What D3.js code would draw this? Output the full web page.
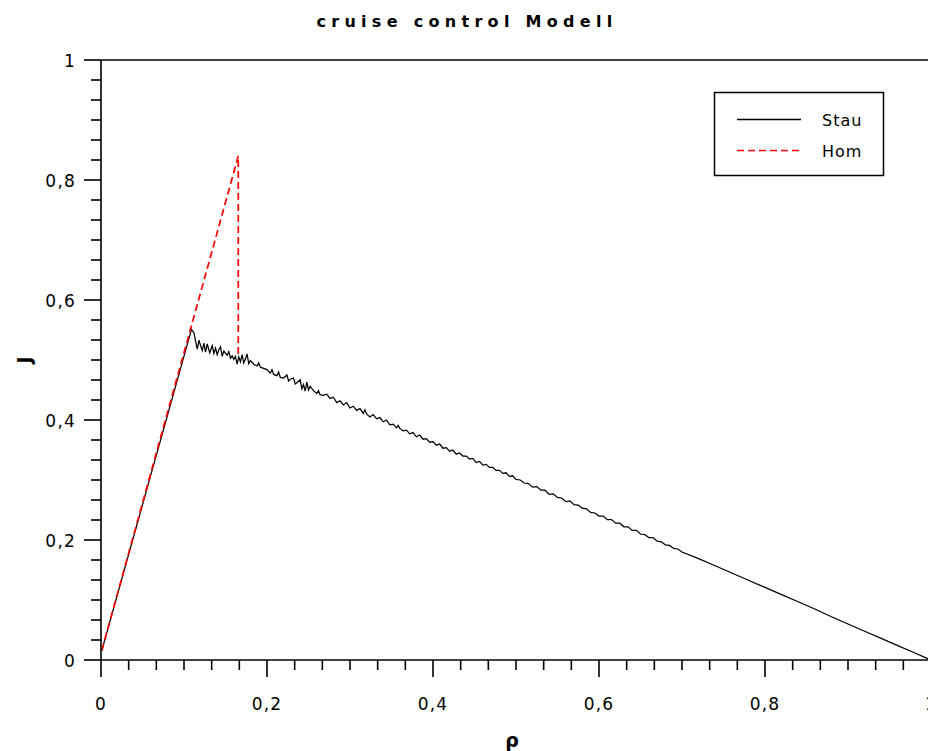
<!DOCTYPE html>
<html>
<head>
<meta charset="utf-8">
<script src="https://cdn.jsdelivr.net/npm/d3@7"></script>
<style>
  html, body { margin: 0; padding: 0; background: #fff; overflow: hidden; }
  svg { display: block; font-family: "DejaVu Sans", Verdana, sans-serif; }
</style>
</head>
<body>
<svg id="chart" width="928" height="751"></svg>
<script>
// ---- data ----
const title = "cruise control Modell";
const xLabel = "ρ";
const yLabel = "J";
const majorTicks = [0, 0.2, 0.4, 0.6, 0.8, 1];
const tickLabels = ["0", "0,2", "0,4", "0,6", "0,8", "1"];
const minorStep = 1 / 30;
const seriesNames = ["Stau", "Hom"];

// Hom: homogeneous start
const hom = [[0.001, 0.016], [0.1654, 0.840], [0.1654, 0.505]];

// Stau: jam start
const stau = [
  [0.001, 0.016], [0.109, 0.551], [0.112, 0.545], [0.114, 0.531], [0.116, 0.518], [0.118, 0.533], [0.120, 0.524],
  [0.122, 0.516], [0.124, 0.528], [0.126, 0.513], [0.128, 0.527], [0.131, 0.512], [0.134, 0.524], [0.136, 0.511],
  [0.138, 0.520], [0.140, 0.509], [0.142, 0.517], [0.144, 0.522], [0.146, 0.506], [0.148, 0.515], [0.152, 0.508],
  [0.154, 0.514], [0.156, 0.503], [0.158, 0.507], [0.160, 0.501], [0.162, 0.506], [0.164, 0.493], [0.166, 0.505],
  [0.168, 0.497], [0.170, 0.509], [0.172, 0.495], [0.174, 0.502], [0.176, 0.510], [0.178, 0.494], [0.180, 0.499],
  [0.184, 0.493], [0.188, 0.490], [0.190, 0.495], [0.192, 0.488], [0.196, 0.486], [0.200, 0.484],
  [0.204, 0.478], [0.206, 0.484], [0.208, 0.476], [0.212, 0.474], [0.214, 0.480], [0.216, 0.471], [0.220, 0.470],
  [0.224, 0.475], [0.226, 0.465], [0.228, 0.468], [0.232, 0.470], [0.234, 0.460], [0.236, 0.462], [0.240, 0.467],
  [0.242, 0.452], [0.244, 0.459], [0.246, 0.448], [0.248, 0.463], [0.250, 0.450], [0.252, 0.456], [0.256, 0.449],
  [0.260, 0.444], [0.262, 0.449], [0.264, 0.442], [0.268, 0.441], [0.272, 0.443], [0.276, 0.436], [0.280, 0.438],
  [0.284, 0.429], [0.288, 0.432], [0.292, 0.425], [0.296, 0.429], [0.300, 0.420],
  [0.304, 0.423], [0.308, 0.416], [0.312, 0.419], [0.316, 0.411], [0.318, 0.417], [0.320, 0.410],
  [0.324, 0.405], [0.328, 0.409], [0.332, 0.402], [0.336, 0.404], [0.340, 0.397],
  [0.344, 0.400], [0.348, 0.392], [0.352, 0.393], [0.356, 0.387], [0.358, 0.391], [0.360, 0.386],
  [0.364, 0.382], [0.368, 0.383], [0.372, 0.377], [0.376, 0.379], [0.380, 0.372],
  [0.384, 0.375], [0.388, 0.368], [0.392, 0.369], [0.396, 0.363], [0.400, 0.364],
  [0.404, 0.358], [0.408, 0.360], [0.412, 0.353], [0.416, 0.354], [0.420, 0.348],
  [0.424, 0.350], [0.428, 0.343], [0.432, 0.345], [0.436, 0.340], [0.440, 0.340],
  [0.444, 0.335], [0.448, 0.336], [0.452, 0.329], [0.456, 0.331], [0.460, 0.325],
  [0.464, 0.326], [0.468, 0.321], [0.472, 0.321], [0.476, 0.316], [0.480, 0.316],
  [0.484, 0.311], [0.488, 0.312], [0.492, 0.306], [0.496, 0.307], [0.500, 0.301],
  [0.505, 0.300], [0.510, 0.295], [0.515, 0.294], [0.520, 0.288], [0.525, 0.289],
  [0.530, 0.283], [0.535, 0.283], [0.540, 0.276], [0.545, 0.277], [0.550, 0.271],
  [0.555, 0.270], [0.560, 0.264], [0.565, 0.265], [0.570, 0.259], [0.575, 0.258],
  [0.580, 0.253], [0.585, 0.252], [0.590, 0.246], [0.595, 0.245], [0.600, 0.240],
  [0.605, 0.240], [0.610, 0.234], [0.615, 0.234], [0.620, 0.228], [0.625, 0.228],
  [0.630, 0.222], [0.635, 0.222], [0.640, 0.216], [0.645, 0.216], [0.650, 0.210],
  [0.655, 0.209], [0.660, 0.204], [0.665, 0.204], [0.670, 0.198], [0.675, 0.197],
  [0.680, 0.192], [0.685, 0.191], [0.690, 0.186], [0.695, 0.185], [0.700, 0.180],
  [0.720, 0.169], [0.740, 0.157], [0.760, 0.145], [0.780, 0.133], [0.800, 0.121],
  [0.820, 0.109], [0.840, 0.097], [0.860, 0.085], [0.880, 0.072], [0.900, 0.060],
  [0.920, 0.048], [0.940, 0.036], [0.960, 0.024], [0.980, 0.012], [1.000, 0.000]
];

// ---- layout ----
const svg = d3.select("#chart");
const x = d3.scaleLinear().domain([0, 1]).range([101, 931]);
const y = d3.scaleLinear().domain([0, 1]).range([660, 60]);
const minorTicks = d3.range(0, 31).map(i => i * minorStep).filter(v => !majorTicks.some(m => Math.abs(m - v) < 1e-6));
const axisColor = "#000";

// title
svg.append("text")
  .attr("x", 467).attr("y", 27)
  .attr("text-anchor", "middle")
  .attr("font-size", 16).attr("font-weight", "bold")
  .attr("letter-spacing", 5.3)
  .text(title);

// data lines
const line = d3.line().x(d => x(d[0])).y(d => y(d[1]));
svg.append("path").datum(stau)
  .attr("d", line).attr("fill", "none")
  .attr("stroke", "#000").attr("stroke-width", 1.25).attr("stroke-linejoin", "miter");
svg.append("path").datum(hom)
  .attr("d", line).attr("fill", "none")
  .attr("stroke", "#ff0000").attr("stroke-width", 1.7)
  .attr("stroke-dasharray", "7,4");

// axes
const g = svg.append("g").attr("stroke", axisColor).attr("stroke-width", 1.6);
g.append("line").attr("x1", x(0)).attr("x2", x(1)).attr("y1", y(0)).attr("y2", y(0));
g.append("line").attr("x1", x(0)).attr("x2", x(0)).attr("y1", y(0)).attr("y2", y(1));
g.append("line").attr("x1", x(0)).attr("x2", x(1)).attr("y1", y(1)).attr("y2", y(1));

// x ticks
g.selectAll(".xmaj").data(majorTicks).join("line")
  .attr("x1", d => x(d)).attr("x2", d => x(d)).attr("y1", y(0)).attr("y2", y(0) + 17);
g.selectAll(".xmin").data(minorTicks).join("line")
  .attr("class", "xmin")
  .attr("x1", d => x(d)).attr("x2", d => x(d)).attr("y1", y(0)).attr("y2", y(0) + 10);
// y ticks
g.selectAll(".ymaj").data(majorTicks).join("line")
  .attr("class", "ymaj")
  .attr("x1", x(0) - 17).attr("x2", x(0)).attr("y1", d => y(d)).attr("y2", d => y(d));
g.selectAll(".ymin").data(minorTicks).join("line")
  .attr("class", "ymin")
  .attr("x1", x(0) - 10).attr("x2", x(0)).attr("y1", d => y(d)).attr("y2", d => y(d));

// tick labels
svg.selectAll(".xl").data(majorTicks).join("text")
  .attr("class", "xl")
  .attr("x", d => x(d)).attr("y", 710)
  .attr("text-anchor", "middle").attr("font-size", 17).attr("letter-spacing", 1.2)
  .text((d, i) => tickLabels[i]);
svg.selectAll(".yl").data(majorTicks).join("text")
  .attr("class", "yl")
  .attr("x", 76).attr("y", d => y(d) + 6.5)
  .attr("text-anchor", "end").attr("font-size", 17).attr("letter-spacing", 1.2)
  .text((d, i) => tickLabels[i]);

// axis labels
svg.append("text")
  .attr("transform", "translate(31,360) rotate(-90)")
  .attr("text-anchor", "middle").attr("font-size", 19).attr("font-weight", "bold")
  .text(yLabel);
svg.append("text")
  .attr("x", 512).attr("y", 747)
  .attr("text-anchor", "middle").attr("font-size", 19).attr("font-weight", "bold")
  .text(xLabel);

// legend
const lg = svg.append("g");
lg.append("rect").attr("x", 714.5).attr("y", 92.5).attr("width", 169).attr("height", 83)
  .attr("fill", "#fff").attr("stroke", "#000").attr("stroke-width", 1.5);
const legendY = [119.5, 150.5];
const legendStyle = [{ c: "#000", w: 1.3, dash: null }, { c: "#ff0000", w: 1.6, dash: "7,4" }];
seriesNames.forEach((name, i) => {
  lg.append("line").attr("x1", 737).attr("x2", 801).attr("y1", legendY[i]).attr("y2", legendY[i])
    .attr("stroke", legendStyle[i].c).attr("stroke-width", legendStyle[i].w)
    .attr("stroke-dasharray", legendStyle[i].dash);
  lg.append("text").attr("x", 822).attr("y", legendY[i] + 6.5)
    .attr("font-size", 16).attr("letter-spacing", 1)
    .text(name);
});
</script>
</body>
</html>
